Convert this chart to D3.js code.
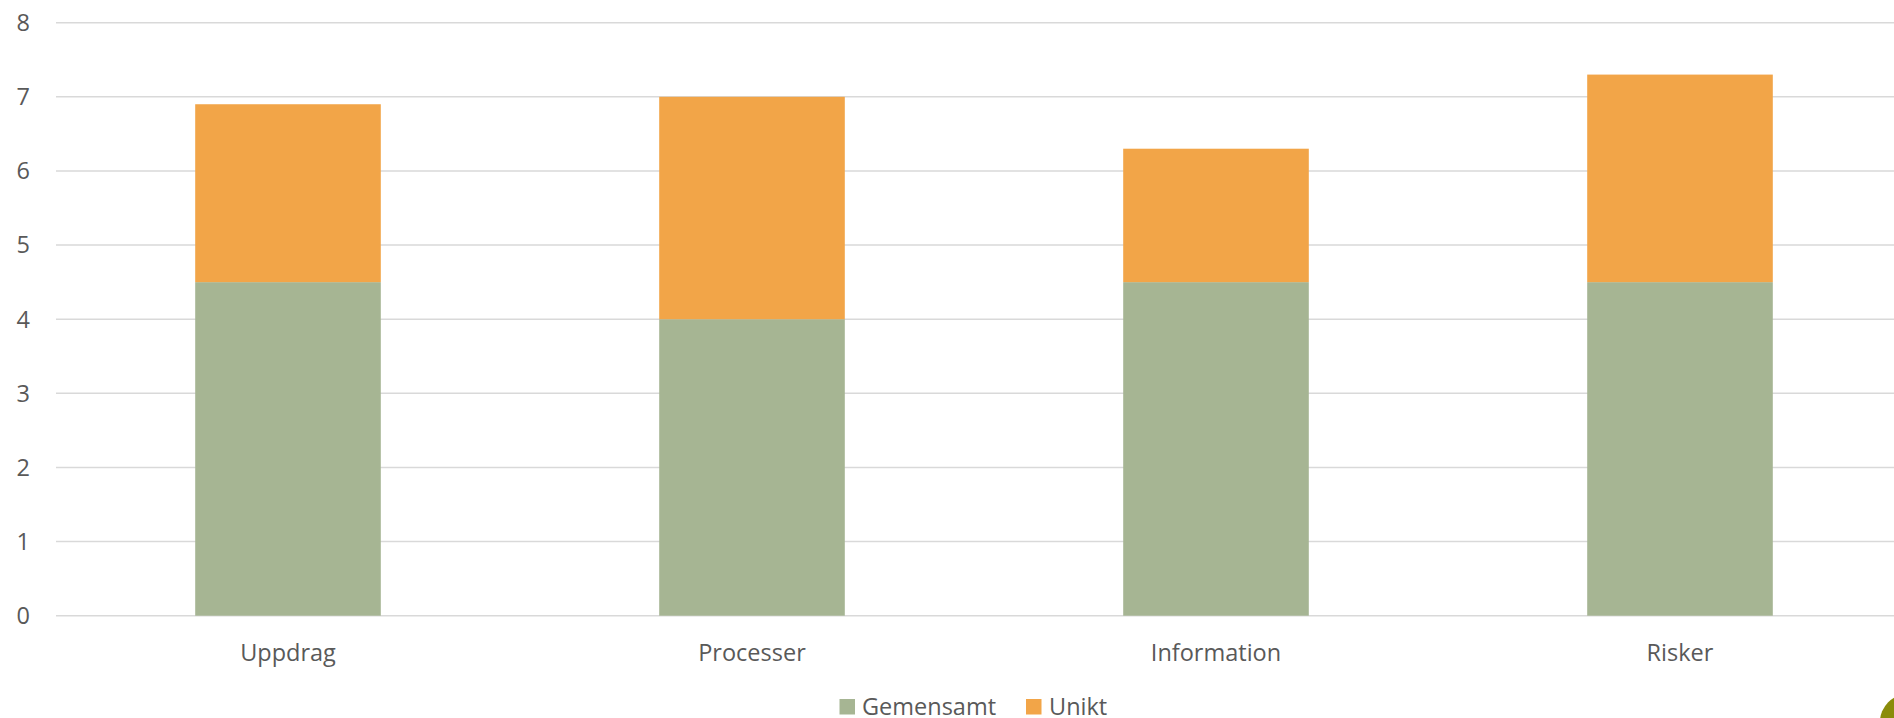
<!DOCTYPE html>
<html>
<head>
<meta charset="utf-8">
<script src="https://cdn.jsdelivr.net/npm/d3@7"></script>
<style>
  html, body { margin: 0; padding: 0; background: #fff; overflow: hidden; }
  svg { display: block; }
  text { font-family: "Open Sans", sans-serif; fill: #595959; }
</style>
</head>
<body>
<svg id="chart" width="1894" height="718"></svg>
<script>
const categories = ["Uppdrag", "Processer", "Information", "Risker"];
const gemensamt = [4.5, 4.0, 4.5, 4.5];
const unikt = [2.4, 3.0, 1.8, 2.8];
const seriesNames = ["Gemensamt", "Unikt"];
const seriesColors = ["#A6B593", "#F2A548"];
const yTicks = [0, 1, 2, 3, 4, 5, 6, 7, 8];

const W = 1894, H = 718;
const svg = d3.select("#chart");

const x = d3.scaleBand().domain(categories).range([56, 1912]).paddingInner(0.6).paddingOuter(0.3);
const y = d3.scaleLinear().domain([0, 8]).range([615.7, 22.7]);

const fs = 23.5;

// gridlines
svg.append("g").selectAll("line").data(yTicks).join("line")
  .attr("x1", 56).attr("x2", W)
  .attr("y1", d => y(d)).attr("y2", d => y(d))
  .attr("stroke", "#D9D9D9").attr("stroke-width", 1.5);

// y tick labels
svg.append("g").selectAll("text").data(yTicks).join("text")
  .attr("x", 30).attr("y", d => y(d) + 8.4)
  .attr("text-anchor", "end").attr("font-size", fs)
  .text(d => d);

// stacked bars
const rows = categories.map((c, i) => ({ cat: c, Gemensamt: gemensamt[i], Unikt: unikt[i] }));
const stacked = d3.stack().keys(seriesNames)(rows);
svg.append("g").selectAll("g").data(stacked).join("g")
  .attr("fill", (d, i) => seriesColors[i])
  .selectAll("rect").data(d => d).join("rect")
  .attr("x", d => x(d.data.cat))
  .attr("width", x.bandwidth())
  .attr("y", d => y(d[1]))
  .attr("height", d => y(d[0]) - y(d[1]));

// category labels
svg.append("g").selectAll("text").data(categories).join("text")
  .attr("x", d => x(d) + x.bandwidth() / 2).attr("y", 661)
  .attr("text-anchor", "middle").attr("font-size", fs)
  .text(d => d);

// legend
const legendItems = [
  { name: seriesNames[0], color: seriesColors[0], sx: 839.5, tx: 862 },
  { name: seriesNames[1], color: seriesColors[1], sx: 1026, tx: 1049 }
];
const lg = svg.append("g");
legendItems.forEach(it => {
  lg.append("rect").attr("x", it.sx).attr("y", 699).attr("width", 15.5).attr("height", 15.5).attr("fill", it.color);
  lg.append("text").attr("x", it.tx).attr("y", 714.5).attr("font-size", fs).text(it.name);
});

// decorative corner circle
svg.append("circle").attr("cx", 1908).attr("cy", 722).attr("r", 28).attr("fill", "#8A8C0A");
</script>
</body>
</html>
